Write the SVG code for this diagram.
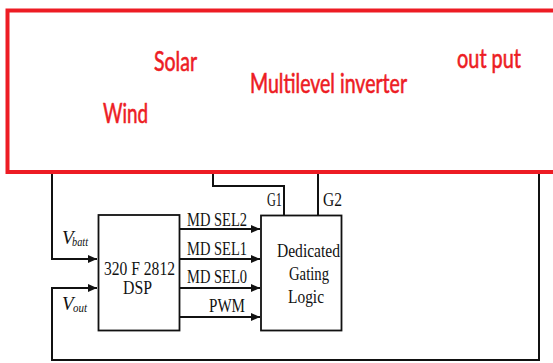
<svg xmlns="http://www.w3.org/2000/svg" width="553" height="363" viewBox="0 0 553 363">
<style>
.red{font-family:Lato,"Noto Sans",sans-serif;font-size:26px;fill:#ed1c24;stroke:#ed1c24;stroke-width:0.6}
.t{font-family:"Liberation Serif","Times New Roman",serif;font-size:19px;fill:#111}
.it{font-family:"Liberation Serif","Times New Roman",serif;font-style:italic;fill:#111}
.ln{fill:none;stroke:#111;stroke-width:2}
.box{fill:#fff;stroke:#111;stroke-width:1.8}
</style>
<defs>
<marker id="ah" markerUnits="userSpaceOnUse" markerWidth="9" markerHeight="8" refX="9" refY="4" orient="auto">
<path d="M0,0 L9,4 L0,8 z" fill="#111"/>
</marker>
</defs>
<rect width="553" height="363" fill="#fff"/>
<g id="connectors">
<path class="ln" d="M52,172 V259 H97" marker-end="url(#ah)"/>
<path class="ln" d="M539,172 V360 H52 V288 H97" marker-end="url(#ah)"/>
<path class="ln" d="M213,172 V186 H284 V215"/>
<path class="ln" d="M318,172 V215"/>
<path class="ln" d="M180,229 H260" marker-end="url(#ah)"/>
<path class="ln" d="M180,259 H260" marker-end="url(#ah)"/>
<path class="ln" d="M180,288 H260" marker-end="url(#ah)"/>
<path class="ln" d="M180,317 H260" marker-end="url(#ah)"/>
<text class="t" x="187" y="226" textLength="60" lengthAdjust="spacingAndGlyphs">MD SEL2</text>
<text class="t" x="187" y="255" textLength="60" lengthAdjust="spacingAndGlyphs">MD SEL1</text>
<text class="t" x="187" y="283" textLength="60" lengthAdjust="spacingAndGlyphs">MD SEL0</text>
<text class="t" x="209" y="312" textLength="36" lengthAdjust="spacingAndGlyphs">PWM</text>
<text class="t" x="267" y="206" textLength="15" lengthAdjust="spacingAndGlyphs" style="font-size:18px">G1</text>
<text class="t" x="323" y="206" textLength="19" lengthAdjust="spacingAndGlyphs" style="font-size:18px">G2</text>
<text class="it" x="62" y="244" style="font-size:19px">V</text>
<text class="it" x="72" y="246" textLength="16" lengthAdjust="spacingAndGlyphs" style="font-size:13px">batt</text>
<text class="it" x="62" y="310" style="font-size:19px">V</text>
<text class="it" x="73" y="312" textLength="14" lengthAdjust="spacingAndGlyphs" style="font-size:13px">out</text>
</g>
<g id="inverter">
<rect x="7.5" y="10.5" width="560" height="161.5" fill="none" stroke="#ed1c24" stroke-width="4"/>
<text class="red" x="154" y="71" textLength="43" lengthAdjust="spacingAndGlyphs">Solar</text>
<text class="red" x="103" y="123" textLength="45" lengthAdjust="spacingAndGlyphs">Wind</text>
<text class="red" x="250" y="93" textLength="157" lengthAdjust="spacingAndGlyphs">Multilevel inverter</text>
<text class="red" x="457" y="68" textLength="64" lengthAdjust="spacingAndGlyphs">out put</text>
</g>
<g id="dsp">
<rect class="box" x="98.5" y="215" width="81" height="115.5"/>
<text class="t" x="104" y="275" textLength="71" lengthAdjust="spacingAndGlyphs" style="font-size:18px">320 F 2812</text>
<text class="t" x="123" y="294" textLength="29" lengthAdjust="spacingAndGlyphs" style="font-size:18px">DSP</text>
</g>
<g id="gating">
<rect class="box" x="261" y="215.5" width="80.5" height="115"/>
<text class="t" x="277" y="257" textLength="63" lengthAdjust="spacingAndGlyphs">Dedicated</text>
<text class="t" x="289" y="280" textLength="40" lengthAdjust="spacingAndGlyphs">Gating</text>
<text class="t" x="288" y="303" textLength="36" lengthAdjust="spacingAndGlyphs">Logic</text>
</g>
</svg>
